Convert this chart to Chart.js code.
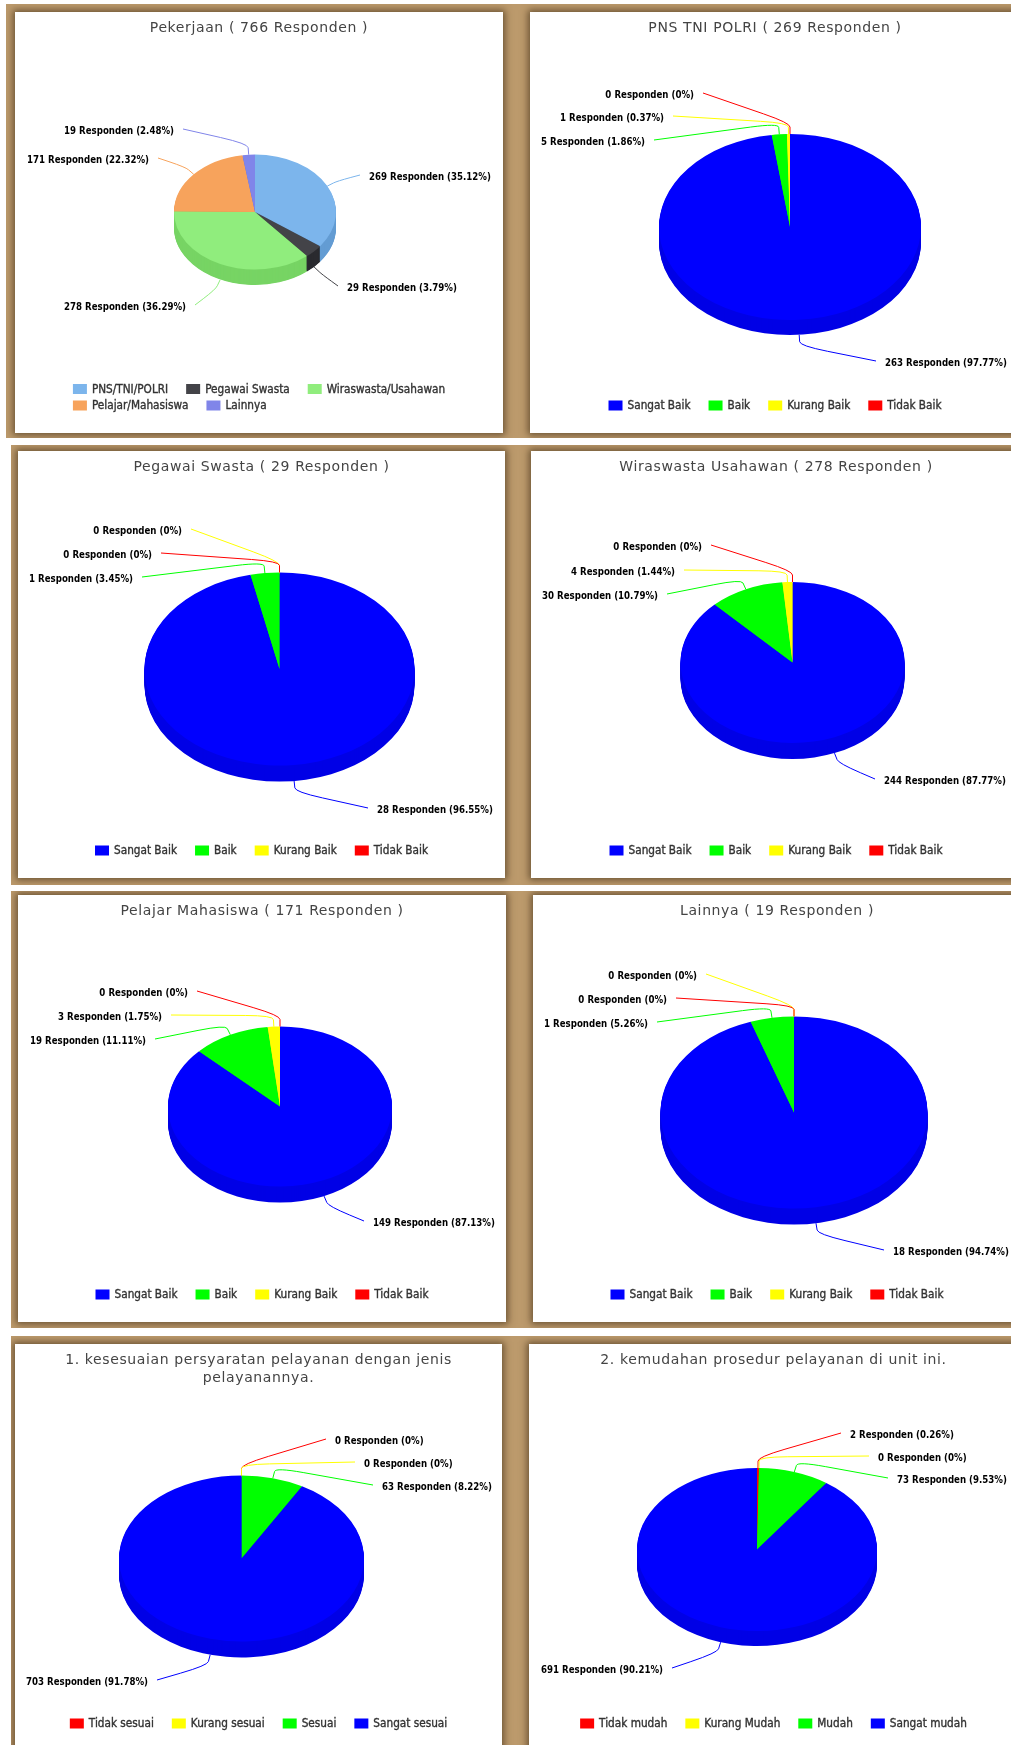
<!DOCTYPE html>
<html>
<head>
<meta charset="utf-8">
<title>Hasil Survei</title>
<script src="https://cdn.jsdelivr.net/npm/chart.js@4"></script>
<style>
    html, body { margin: 0; padding: 0; background: #fff; }
    body { position: relative; width: 1011px; height: 1745px; overflow: hidden; }
    .row { position: absolute; right: 0; background: #bc9a6c; overflow: hidden; }
    .card { position: absolute; background: #fff; box-shadow: 0 0 7px 2px rgba(70, 50, 25, 0.7); }
    canvas { display: block; filter: blur(0.4px); }
</style>
</head>
<body>
<script>
// Data
const jobLabels = ['PNS/TNI/POLRI', 'Pegawai Swasta', 'Wiraswasta/Usahawan', 'Pelajar/Mahasiswa', 'Lainnya'];
const jobValues = [269, 29, 278, 171, 19];
const jobColors = ['#7cb5ec', '#434348', '#90ed7d', '#f7a35c', '#8085e9'];

const baikLabels = ['Sangat Baik', 'Baik', 'Kurang Baik', 'Tidak Baik'];
const baikColors = ['#0000ff', '#00ff00', '#ffff00', '#ff0000'];
const pnsValues = [263, 5, 1, 0];
const swastaValues = [28, 1, 0, 0];
const wiraswastaValues = [244, 30, 4, 0];
const pelajarValues = [149, 19, 3, 0];
const lainnyaValues = [18, 1, 0, 0];

const q1Labels = ['Tidak sesuai', 'Kurang sesuai', 'Sesuai', 'Sangat sesuai'];
const q1Values = [0, 0, 63, 703];
const q2Labels = ['Tidak mudah', 'Kurang Mudah', 'Mudah', 'Sangat mudah'];
const q2Values = [2, 0, 73, 691];
const scaleColors = ['#ff0000', '#ffff00', '#00ff00', '#0000ff'];

// Brown strips behind the cards
const rows = [
    { x: 6, y: 4, h: 434 },
    { x: 11, y: 445, h: 440 },
    { x: 11, y: 891, h: 437 },
    { x: 11, y: 1336, h: 420 }
];

// card: page box of the white card, pie: page centre and radii, tags: where each slice label sits
const panels = [
    {
        row: 0, card: [15, 12, 488, 421], title: 'Pekerjaan ( 766 Responden )',
        labels: jobLabels, values: jobValues, colors: jobColors, legendRows: [3, 2],
        pie: { x: 255, y: 212, rx: 81, ry: 57.5, depth: 15.5 },
        tags: [['l', 369, 177], ['l', 347, 288], ['r', 186, 307], ['r', 149, 160], ['r', 174, 131]]
    },
    {
        row: 0, card: [530, 12, 490, 421], title: 'PNS TNI POLRI ( 269 Responden )',
        labels: baikLabels, values: pnsValues, colors: baikColors, legendRows: [4],
        pie: { x: 790, y: 227, rx: 131, ry: 93, depth: 15 },
        tags: [['l', 885, 363], ['r', 645, 142], ['r', 664, 118], ['r', 694, 95]]
    },
    {
        row: 1, card: [18, 451, 487, 427], title: 'Pegawai Swasta ( 29 Responden )',
        labels: baikLabels, values: swastaValues, colors: baikColors, legendRows: [4],
        pie: { x: 279.5, y: 669, rx: 135, ry: 96.5, depth: 16 },
        tags: [['l', 377, 810], ['r', 133, 579], ['r', 182, 531], ['r', 152, 555]]
    },
    {
        row: 1, card: [531, 451, 490, 427], title: 'Wiraswasta Usahawan ( 278 Responden )',
        labels: baikLabels, values: wiraswastaValues, colors: baikColors, legendRows: [4],
        pie: { x: 792.5, y: 662.5, rx: 112, ry: 80.5, depth: 16 },
        tags: [['l', 884, 781], ['r', 658, 596], ['r', 675, 572], ['r', 702, 547]]
    },
    {
        row: 2, card: [18, 895, 488, 427], title: 'Pelajar Mahasiswa ( 171 Responden )',
        labels: baikLabels, values: pelajarValues, colors: baikColors, legendRows: [4],
        pie: { x: 280, y: 1106.5, rx: 112, ry: 80, depth: 16 },
        tags: [['l', 373, 1223], ['r', 146, 1041], ['r', 162, 1017], ['r', 188, 993]]
    },
    {
        row: 2, card: [533, 895, 488, 427], title: 'Lainnya ( 19 Responden )',
        labels: baikLabels, values: lainnyaValues, colors: baikColors, legendRows: [4],
        pie: { x: 794, y: 1112.5, rx: 133.5, ry: 96, depth: 16 },
        tags: [['l', 893, 1252], ['r', 648, 1024], ['r', 697, 976], ['r', 667, 1000]]
    },
    {
        row: 3, card: [15, 1344, 487, 407], title: ['1. kesesuaian persyaratan pelayanan dengan jenis', 'pelayanannya.'],
        labels: q1Labels, values: q1Values, colors: scaleColors, legendRows: [4],
        pie: { x: 241.5, y: 1558.5, rx: 122.5, ry: 83, depth: 16 },
        tags: [['l', 335, 1441], ['l', 364, 1464], ['l', 382, 1487], ['r', 148, 1682]]
    },
    {
        row: 3, card: [529, 1344, 489, 407], title: '2. kemudahan prosedur pelayanan di unit ini.',
        labels: q2Labels, values: q2Values, colors: scaleColors, legendRows: [4],
        pie: { x: 757, y: 1549.5, rx: 120, ry: 81.5, depth: 15 },
        tags: [['l', 850, 1435], ['l', 878, 1458], ['l', 897, 1480], ['r', 663, 1670]]
    }
];

const FONT = '"DejaVu Sans", sans-serif';
const NARROW = '"DejaVu Sans Condensed", "DejaVu Sans", sans-serif';

// side wall colour: same slice colour, a notch darker
function sideColor(hex) {
    const n = parseInt(hex.slice(1), 16);
    const c = [n >> 16, (n >> 8) & 255, n & 255].map(v => Math.max(v - 25, 0));
    return `rgb(${c[0]},${c[1]},${c[2]})`;
}

// The reference title is spaced out a little
const spacingPlugin = {
    id: 'spacing',
    beforeDraw(chart) {
        chart.ctx.letterSpacing = '0.62px';
    }
};

// Tilts the pie: the wall first, then the slices drawn by Chart.js under a flattened transform
const tiltPlugin = {
    id: 'tilt',
    beforeDatasetsDraw(chart, args, opts) {
        const ctx = chart.ctx;
        const p = opts.pie;
        const arcs = chart.getDatasetMeta(0).data;
        const k = p.ry / p.rx;

        ctx.letterSpacing = '0px';
        ctx.save();
        for (let d = Math.ceil(p.depth); d > 0; d--) {
            arcs.forEach((arc, i) => {
                if (arc.circumference === 0) return;
                ctx.save();
                ctx.translate(p.x, p.y + Math.min(d, p.depth));
                ctx.scale(1, k);
                ctx.beginPath();
                ctx.moveTo(0, 0);
                ctx.arc(0, 0, arc.outerRadius, arc.startAngle, arc.endAngle);
                ctx.closePath();
                ctx.fillStyle = sideColor(chart.data.datasets[0].backgroundColor[i]);
                ctx.fill();
                ctx.restore();
            });
        }
        ctx.restore();

        ctx.save();
        ctx.translate(p.x, p.y);
        ctx.scale(1, k);
        ctx.translate(-arcs[0].x, -arcs[0].y);
    },
    afterDatasetsDraw(chart) {
        chart.ctx.restore();
    }
};

// Slice labels with their bent leader lines
const tagPlugin = {
    id: 'tags',
    afterDraw(chart, args, opts) {
        const ctx = chart.ctx;
        const p = opts.pie;
        const ds = chart.data.datasets[0];
        const total = ds.data.reduce((a, b) => a + b, 0);

        chart.getDatasetMeta(0).data.forEach((arc, i) => {
            const [side, tx, ty] = opts.tags[i];
            const a = (arc.startAngle + arc.endAngle) / 2;
            const cos = Math.cos(a), sin = Math.sin(a);

            // start on the rim (lower half: on the bottom of the wall)
            const sx = p.x + p.rx * cos;
            const sy = p.y + p.ry * sin + (sin > 0 ? p.depth : 0);
            const bx = sx + cos * 11, by = sy + sin * 11;
            const ex = tx + (side === 'l' ? -9 : 9), ey = ty - 2;

            // rounded corner before the run to the label
            const len = Math.hypot(ex - bx, ey - by);
            const rr = Math.min(28, len * 0.6);
            const qx = bx + (ex - bx) / len * rr, qy = by + (ey - by) / len * rr;

            ctx.beginPath();
            ctx.moveTo(sx, sy);
            ctx.lineTo(sx + cos * 7, sy + sin * 7);
            ctx.quadraticCurveTo(bx, by, qx, qy);
            ctx.lineTo(ex, ey);
            ctx.strokeStyle = ds.backgroundColor[i];
            ctx.lineWidth = 1;
            ctx.stroke();

            const pct = +(ds.data[i] / total * 100).toFixed(2);
            ctx.font = 'bold 9.6px ' + NARROW;
            ctx.fillStyle = '#000';
            ctx.textBaseline = 'middle';
            ctx.textAlign = side === 'l' ? 'left' : 'right';
            ctx.fillText(`${ds.data[i]} Responden (${pct}%)`, tx, ty);
        });
    }
};

// Legend block: widest row centred in the card, other rows start at its left edge
const keyPlugin = {
    id: 'key',
    afterDraw(chart, args, opts) {
        const ctx = chart.ctx;
        const labels = chart.data.labels;
        const colors = chart.data.datasets[0].backgroundColor;
        const boxW = 14, boxH = 10, textGap = 5, itemGap = 18, rowH = 16.5;

        ctx.font = '11.7px ' + NARROW;
        ctx.textAlign = 'left';
        ctx.textBaseline = 'middle';

        const widths = labels.map(t => boxW + textGap + ctx.measureText(t).width);
        let start = 0;
        const rowsOut = opts.rows.map(n => {
            const items = widths.slice(start, start + n);
            const r = { from: start, items, w: items.reduce((a, b) => a + b, 0) + itemGap * (n - 1) };
            start += n;
            return r;
        });
        const left = (chart.width - Math.max(...rowsOut.map(r => r.w))) / 2;
        let y = chart.height - 27.5 - rowH * (rowsOut.length - 1);

        rowsOut.forEach(r => {
            let x = left;
            r.items.forEach((w, j) => {
                const i = r.from + j;
                ctx.fillStyle = colors[i];
                ctx.fillRect(x, y - boxH / 2, boxW, boxH);
                // thin outline gives the semi-bold look of the original
                ctx.fillStyle = '#333';
                ctx.strokeStyle = '#333';
                ctx.lineWidth = 0.35;
                ctx.fillText(labels[i], x + boxW + textGap, y + 0.5);
                ctx.strokeText(labels[i], x + boxW + textGap, y + 0.5);
                x += w + itemGap;
            });
            y += rowH;
        });
    }
};

function makePanel(panel) {
    const [cx, cy, cw, ch] = panel.card;
    const row = rows[panel.row];

    let rowEl = document.getElementById('row' + panel.row);
    if (!rowEl) {
        rowEl = document.createElement('div');
        rowEl.id = 'row' + panel.row;
        rowEl.className = 'row';
        rowEl.style.left = row.x + 'px';
        rowEl.style.top = row.y + 'px';
        rowEl.style.height = row.h + 'px';
        document.body.appendChild(rowEl);
    }

    const card = document.createElement('div');
    card.className = 'card';
    card.style.left = (cx - row.x) + 'px';
    card.style.top = (cy - row.y) + 'px';
    card.style.width = cw + 'px';
    card.style.height = ch + 'px';
    const canvas = document.createElement('canvas');
    canvas.width = cw;
    canvas.height = ch;
    card.appendChild(canvas);
    rowEl.appendChild(card);

    // everything below is in card coordinates
    const pie = { x: panel.pie.x - cx, y: panel.pie.y - cy, rx: panel.pie.rx, ry: panel.pie.ry, depth: panel.pie.depth };
    const tags = panel.tags.map(t => [t[0], t[1] - cx, t[2] - cy]);

    new Chart(canvas.getContext('2d'), {
        type: 'pie',
        data: {
            labels: panel.labels,
            datasets: [{
                data: panel.values,
                backgroundColor: panel.colors,
                borderWidth: 0
            }]
        },
        options: {
            responsive: false,
            animation: false,
            radius: panel.pie.rx,
            plugins: {
                legend: { display: false },
                tooltip: { enabled: false },
                title: {
                    display: true,
                    text: panel.title,
                    color: '#444',
                    font: { family: FONT, size: 14, weight: 'normal', lineHeight: 18 / 14 },
                    padding: { top: 7, bottom: 6 }
                },
                tilt: { pie: pie },
                tags: { pie: pie, tags: tags },
                key: { rows: panel.legendRows }
            }
        },
        plugins: [spacingPlugin, tiltPlugin, tagPlugin, keyPlugin]
    });
}

panels.forEach(makePanel);
</script>
</body>
</html>
